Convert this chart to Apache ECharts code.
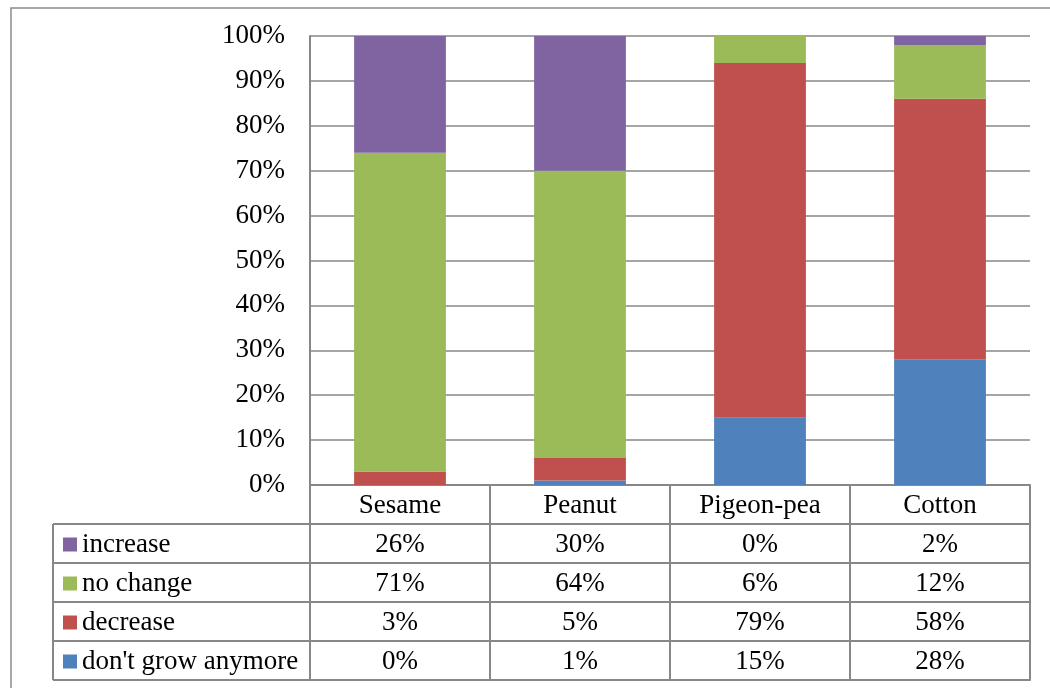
<!DOCTYPE html>
<html>
<head>
<meta charset="utf-8">
<script src="https://cdn.jsdelivr.net/npm/echarts@6/dist/echarts.min.js"></script>
<style>
  html, body { margin: 0; padding: 0; background: #fff; }
  #chart { width: 1050px; height: 688px; }
</style>
</head>
<body>
<div id="chart"></div>
<script>
// Crops surveyed and the share of answers for each change in cultivation
const crops = ['Sesame', 'Peanut', 'Pigeon-pea', 'Cotton'];
const responseNames = ['increase', 'no change', 'decrease', "don't grow anymore"];
const increase = [26, 30, 0, 2];
const noChange = [71, 64, 6, 12];
const decrease = [3, 5, 79, 58];
const dontGrow = [0, 1, 15, 28];
const percentTicks = [0, 10, 20, 30, 40, 50, 60, 70, 80, 90, 100];

const colors = {
  increase: '#8064A2',
  noChange: '#9BBB59',
  decrease: '#C0504D',
  dontGrow: '#4F81BD'
};

const FONT = '"Liberation Serif", "Times New Roman", serif';
const FONT_SIZE = 27;
const LINE = '#878787';

// layout of the plot and the data table underneath
const GRID_LEFT = 310, GRID_TOP = 36, GRID_RIGHT = 20, GRID_BOTTOM = 203;
const ROW_H = 39;
const TABLE_LEFT = 53;
const plotBottom = 688 - GRID_BOTTOM;

const tableRows = [increase, noChange, decrease, dontGrow];

const labelStyle = {
  color: '#000',
  fontFamily: FONT,
  fontSize: FONT_SIZE,
  margin: 1,
  lineHeight: ROW_H,
  interval: 0
};

// header axis carries the crop names and the vertical table rules (its ticks)
const xAxes = [{
  type: 'category',
  data: crops,
  gridIndex: 0,
  position: 'bottom',
  axisLine: { show: true, lineStyle: { color: LINE, width: 2 } },
  axisTick: { show: true, interval: 0, length: ROW_H * 5, lineStyle: { color: LINE, width: 2 } },
  axisLabel: labelStyle
}];
// one axis per table row, shifted down a row each time
tableRows.forEach((vals, i) => {
  xAxes.push({
    type: 'category',
    data: vals.map(v => v + '%'),
    gridIndex: 0,
    position: 'bottom',
    offset: ROW_H * (i + 1),
    axisLine: { show: true, lineStyle: { color: LINE, width: 2 } },
    axisTick: { show: false },
    axisLabel: labelStyle
  });
});
// closing rule of the table
xAxes.push({
  type: 'category',
  data: crops,
  gridIndex: 0,
  position: 'bottom',
  offset: ROW_H * 5,
  axisLine: { show: true, lineStyle: { color: LINE, width: 2 } },
  axisTick: { show: false },
  axisLabel: { show: false }
});

// rules of the legend column on the left of the table
const leftRules = [];
for (let i = 1; i <= 5; i++) {
  const y = plotBottom + ROW_H * i;
  leftRules.push({
    type: 'line',
    shape: { x1: TABLE_LEFT, y1: y, x2: GRID_LEFT, y2: y },
    style: { stroke: LINE, lineWidth: 2 },
    silent: true
  });
}
leftRules.push({
  type: 'line',
  shape: { x1: TABLE_LEFT, y1: plotBottom + ROW_H, x2: TABLE_LEFT, y2: plotBottom + ROW_H * 5 },
  style: { stroke: LINE, lineWidth: 2 },
  silent: true
});

const chart = echarts.init(document.getElementById('chart'), null, { renderer: 'canvas' });

chart.setOption({
  animation: false,
  backgroundColor: '#fff',
  textStyle: { fontFamily: FONT },
  grid: { left: GRID_LEFT, top: GRID_TOP, right: GRID_RIGHT, bottom: GRID_BOTTOM, containLabel: false },
  legend: {
    orient: 'vertical',
    left: 63,
    top: plotBottom + ROW_H + (ROW_H - FONT_SIZE) / 2 + 1,
    padding: 0,
    itemGap: ROW_H - FONT_SIZE,
    itemWidth: 14,
    itemHeight: 14,
    icon: 'rect',
    selectedMode: false,
    data: responseNames,
    textStyle: { color: '#000', fontFamily: FONT, fontSize: FONT_SIZE, lineHeight: FONT_SIZE }
  },
  xAxis: xAxes,
  yAxis: {
    type: 'value',
    min: percentTicks[0],
    max: percentTicks[percentTicks.length - 1],
    interval: percentTicks[1] - percentTicks[0],
    axisLine: { show: true, lineStyle: { color: LINE, width: 2 } },
    axisTick: { show: false },
    splitLine: { show: true, lineStyle: { color: LINE, width: 1.5 } },
    axisLabel: {
      formatter: '{value}%',
      color: '#000',
      fontFamily: FONT,
      fontSize: FONT_SIZE,
      margin: 25,
      padding: [3, 0, 0, 0]
    }
  },
  series: [
    { name: "don't grow anymore", type: 'bar', stack: 'share', data: dontGrow, barWidth: '51%', itemStyle: { color: colors.dontGrow } },
    { name: 'decrease', type: 'bar', stack: 'share', data: decrease, barWidth: '51%', itemStyle: { color: colors.decrease } },
    { name: 'no change', type: 'bar', stack: 'share', data: noChange, barWidth: '51%', itemStyle: { color: colors.noChange } },
    { name: 'increase', type: 'bar', stack: 'share', data: increase, barWidth: '51%', itemStyle: { color: colors.increase } }
  ],
  graphic: [
    {
      type: 'rect',
      shape: { x: 11, y: 8, width: 1100, height: 720 },
      style: { fill: 'none', stroke: '#8c8c8c', lineWidth: 1.5 },
      silent: true,
      z: -1
    }
  ].concat(leftRules)
});
</script>
</body>
</html>
